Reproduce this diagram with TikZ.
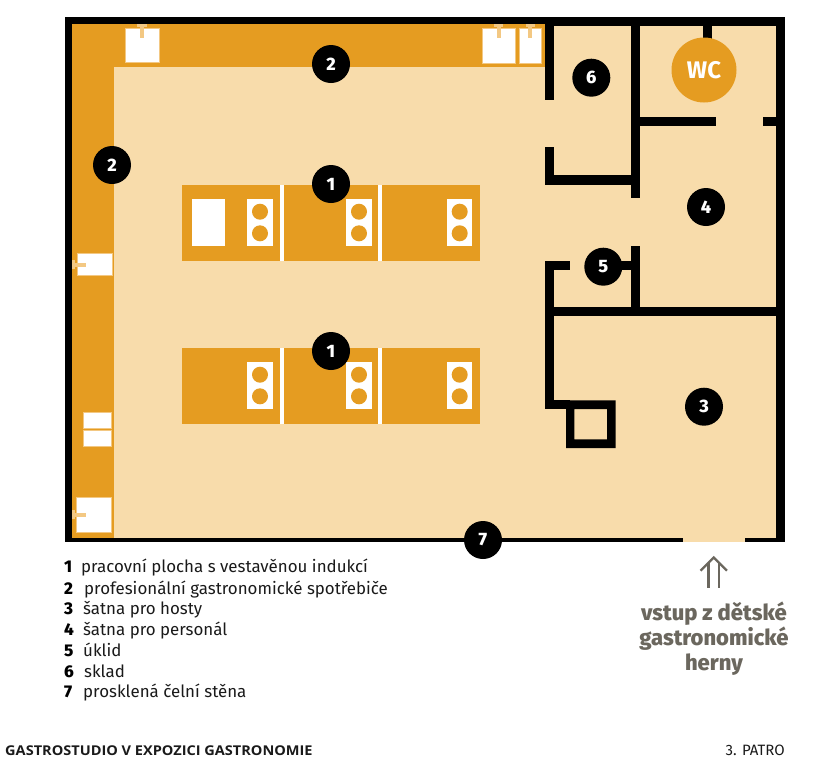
\documentclass[tikz,border=0pt]{standalone}
\usepackage{fontspec}
\setmainfont{Fira Sans}
\newfontfamily\heavyfont{Fira Sans ExtraBold}
\newfontfamily\widefont[FakeStretch=1.077]{Open Sans}
\definecolor{amber}{HTML}{E59C21}
\definecolor{cream}{HTML}{F8DCAB}
\definecolor{handle}{HTML}{F3C883}
\definecolor{greytext}{HTML}{6B675E}
\definecolor{inktext}{HTML}{1A1A1A}
\tikzset{
  wall/.style={fill=black},
  floorarea/.style={fill=cream},
  counter/.style={fill=amber},
  whitebox/.style={fill=white,draw=handle,line width=0.4pt},
  slot/.style={fill=white},
  tee/.style={fill=handle},
  ring/.style={fill=amber},
  badge/.style={circle,fill=black,text=white,inner sep=0pt,minimum size=38pt,font=\fontsize{18}{18}\selectfont\heavyfont},
  wcbadge/.style={circle,fill=amber,text=white,inner sep=0pt,minimum size=65pt,font=\fontsize{24}{24}\selectfont\bfseries},
  legnum/.style={anchor=base west,inner sep=0pt,text=black,font=\fontsize{17}{20}\selectfont\heavyfont},
  legtxt/.style={anchor=base west,inner sep=0pt,text=inktext,font=\fontsize{16.9}{20}\selectfont},
  entry/.style={anchor=base,inner sep=0pt,text=greytext,font=\fontsize{22}{24}\selectfont\heavyfont},
  foot/.style={inner sep=0pt,text=inktext,font=\fontsize{15}{16}\selectfont},
  footbold/.style={inner sep=0pt,text=inktext,font=\fontsize{13.5}{16}\selectfont\widefont\bfseries},
  entryarrow/.style={draw=greytext,line width=2.4pt}
}
\begin{document}
\begin{tikzpicture}[x=1pt,y=-1pt]
\useasboundingbox (0,0) rectangle (820,769);
% floor and counters
\fill[floorarea] (65,17) rectangle (785,542);
\fill[counter] (72,24) rectangle (545.3,66.7);
\fill[counter] (72,24) rectangle (114.3,538);
% outer walls
\fill[wall] (65,17) rectangle (72,542);
\fill[wall] (65,17) rectangle (785,24);
\fill[wall] (545,17) rectangle (785,26);
\fill[wall] (776,17) rectangle (785,542);
\fill[wall] (65,538) rectangle (785,542);
\fill[floorarea] (682.7,537.8) rectangle (745,542.2);
% inner walls
\fill[wall] (545.3,17) rectangle (554.3,100);
\fill[wall] (631.3,17) rectangle (640,198.3);
\fill[wall] (703.3,17) rectangle (712.3,50);
\fill[wall] (640,116.7) rectangle (716,126);
\fill[wall] (762.7,116.7) rectangle (776,126);
\fill[wall] (545.3,146.7) rectangle (554.3,184.7);
\fill[wall] (545.3,175.3) rectangle (632,184.7);
\fill[wall] (545.3,260.7) rectangle (554.3,409);
\fill[wall] (545.3,260.7) rectangle (570.3,270);
\fill[wall] (600,260.7) rectangle (632,270);
\fill[wall] (631,246) rectangle (640,316);
\fill[wall] (545.3,307) rectangle (776,316);
\fill[wall] (545.3,400.3) rectangle (570,409);
\fill[wall,even odd rule] (566,400.3) rectangle (615.7,448) (574.3,409) rectangle (607,439.3);
% appliances top
\fill[whitebox] (125.3,27.7) rectangle (158.7,62.3);
\fill[whitebox] (482,28.3) rectangle (515,63.3);
\fill[whitebox] (519.3,28.3) rectangle (541,63.3);
\foreach \hx in {142,498.7,530.3}{
  \fill[tee] (\hx-4.7,24) rectangle (\hx+4.7,27);
  \fill[tee] (\hx-2,27) rectangle (\hx+2,38.3);
}
% appliances left
\fill[whitebox] (77.3,253.3) rectangle (112,275.3);
\fill[whitebox] (83,412) rectangle (110.7,428.3);
\fill[whitebox] (83,430) rectangle (110.7,446.3);
\fill[whitebox] (76,497.3) rectangle (110.7,532.3);
\foreach \hy in {264.5,514.7}{
  \fill[tee] (72,\hy-4.7) rectangle (75,\hy+4.7);
  \fill[tee] (75,\hy-2) rectangle (86,\hy+2);
}
% work tables
\foreach \dy in {0,163}{
  \fill[counter] (182.3,184.7+\dy) rectangle (480,260.7+\dy);
  \fill[slot] (280,184.7+\dy) rectangle (284,260.7+\dy);
  \fill[slot] (378.3,184.7+\dy) rectangle (382.3,260.7+\dy);
  \foreach \hx in {260,359,459.7}{
    \fill[slot] (\hx-12.7,199+\dy) rectangle (\hx+12.7,246.3+\dy);
    \fill[ring] (\hx,211.7+\dy) circle (8);
    \fill[ring] (\hx,233.3+\dy) circle (8);
  }
}
\fill[slot] (192,199) rectangle (225.3,246.3);
% badges
\node[wcbadge] (wc) at (704,70) {WC};
\node[badge] (b2a) at (331,64) {2};
\node[badge] (b2b) at (112,165) {2};
\node[badge] (b1a) at (331,184) {1};
\node[badge] (b1b) at (331,351) {1};
\node[badge] (b6) at (591.3,77.7) {6};
\node[badge] (b4) at (706,207) {4};
\node[badge] (b5) at (603.3,266.7) {5};
\node[badge] (b3) at (704,406.7) {3};
\node[badge] (b7) at (483,540) {7};
% legend
\node[legnum] (n1) at (64,572.7) {1};
\node[legtxt] (t1) at (81,572.7) {pracovní plocha s vestavěnou indukcí};
\node[legnum] (n2) at (64,594) {2};
\node[legtxt] (t2) at (84,594) {profesionální gastronomické spotřebiče};
\node[legnum] (n3) at (64,614) {3};
\node[legtxt] (t3) at (83,614) {šatna pro hosty};
\node[legnum] (n4) at (64,635) {4};
\node[legtxt] (t4) at (83,635) {šatna pro personál};
\node[legnum] (n5) at (64,656) {5};
\node[legtxt] (t5) at (83,656) {úklid};
\node[legnum] (n6) at (64,677) {6};
\node[legtxt] (t6) at (84,677) {sklad};
\node[legnum] (n7) at (64,697.7) {7};
\node[legtxt] (t7) at (83,697.7) {prosklená čelní stěna};
% entry
\draw[entryarrow] (708.4,587.7) -- (708.4,563);
\draw[entryarrow] (719,587.7) -- (719,563);
\draw[entryarrow,line join=miter] (700.5,570.7) -- (713.7,557.5) -- (727,570.7);
\node[entry] (e1) at (714,620.7) {vstup z dětské};
\node[entry] (e2) at (714,645.3) {gastronomické};
\node[entry] (e3) at (714,670) {herny};
% footer
\node[footbold,anchor=base west] (f1) at (5,755) {GASTROSTUDIO V EXPOZICI GASTRONOMIE};
\node[foot,anchor=base east] (f2) at (785,755) {3. PATRO};
\end{tikzpicture}
\end{document}
